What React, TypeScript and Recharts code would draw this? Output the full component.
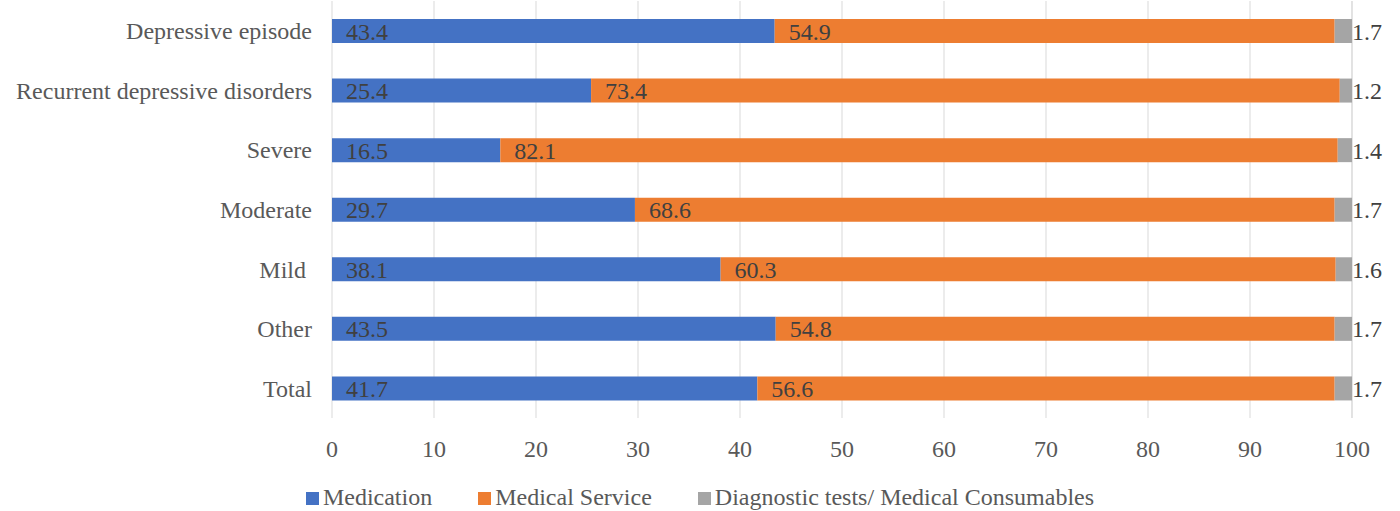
import React from 'react';
import { BarChart, Bar, XAxis, YAxis, CartesianGrid, Legend, LabelList } from 'recharts';

// Categories, top to bottom
const categories = [
  'Depressive episode',
  'Recurrent depressive disorders',
  'Severe',
  'Moderate',
  'Mild\u00a0',
  'Other',
  'Total',
];

// Share of cost (%) per component
const medication = [43.4, 25.4, 16.5, 29.7, 38.1, 43.5, 41.7];
const medicalService = [54.9, 73.4, 82.1, 68.6, 60.3, 54.8, 56.6];
const diagnostics = [1.7, 1.2, 1.4, 1.7, 1.6, 1.7, 1.7];

const xTicks = [0, 10, 20, 30, 40, 50, 60, 70, 80, 90, 100];

const data = categories.map((name, i) => ({
  name,
  medication: medication[i],
  medicalService: medicalService[i],
  diagnostics: diagnostics[i],
}));

const FONT = '"Liberation Serif", "Times New Roman", serif';

const legendItems = [
  { label: 'Medication', color: '#4472c4' },
  { label: 'Medical Service', color: '#ed7d31' },
  { label: 'Diagnostic tests/ Medical Consumables', color: '#a5a5a5' },
];

const CustomLegend = () => (
  <div
    style={{
      height: 43,
      width: 1400,
      display: 'flex',
      justifyContent: 'center',
      alignItems: 'flex-end',
      boxSizing: 'border-box',
      fontFamily: FONT,
      fontSize: 24,
      color: '#595959',
      gap: 46,
    }}
  >
    {legendItems.map((item) => (
      <div key={item.label} style={{ display: 'flex', alignItems: 'center', lineHeight: '27px' }}>
        <span style={{ width: 13, height: 13, background: item.color, display: 'inline-block', marginRight: 4, marginTop: 2 }} />
        <span>{item.label}</span>
      </div>
    ))}
  </div>
);

const App: React.FC = () => {
  return (
    <div style={{ position: 'absolute', top: 0, left: 0, width: 1400, height: 511, background: '#fff' }}>
      <BarChart
        width={1400}
        height={511}
        data={data}
        layout="vertical"
        barSize={24}
        margin={{ top: 1, right: 48, left: 0, bottom: 0 }}
        style={{ fontFamily: FONT }}
      >
        <CartesianGrid horizontal={false} stroke="#d9d9d9" />
        <XAxis
          type="number"
          domain={[0, 100]}
          ticks={xTicks}
          axisLine={false}
          tickLine={false}
          tickMargin={16}
          height={50}
          tick={{ fill: '#595959', fontSize: 24, fontFamily: FONT }}
        />
        <YAxis
          type="category"
          dataKey="name"
          width={332}
          axisLine={false}
          tickLine={false}
          tickMargin={14}
          interval={0}
          tick={{ fill: '#595959', fontSize: 24, fontFamily: FONT }}
        />
        <Legend
          verticalAlign="bottom"
          content={<CustomLegend />}
          wrapperStyle={{ left: 0, width: 1400, bottom: 0 }}
        />
        <Bar dataKey="medication" name="Medication" stackId="a" fill="#4472c4" isAnimationActive={false}>
          <LabelList dataKey="medication" position="insideLeft" offset={14} fill="#404040" fontSize={24} fontFamily={FONT} />
        </Bar>
        <Bar dataKey="medicalService" name="Medical Service" stackId="a" fill="#ed7d31" isAnimationActive={false}>
          <LabelList dataKey="medicalService" position="insideLeft" offset={14} fill="#404040" fontSize={24} fontFamily={FONT} />
        </Bar>
        <Bar dataKey="diagnostics" name="Diagnostic tests/ Medical Consumables" stackId="a" fill="#a5a5a5" isAnimationActive={false}>
          <LabelList dataKey="diagnostics" position="right" offset={0} fill="#404040" fontSize={24} fontFamily={FONT} />
        </Bar>
      </BarChart>
    </div>
  );
};

export default App;
